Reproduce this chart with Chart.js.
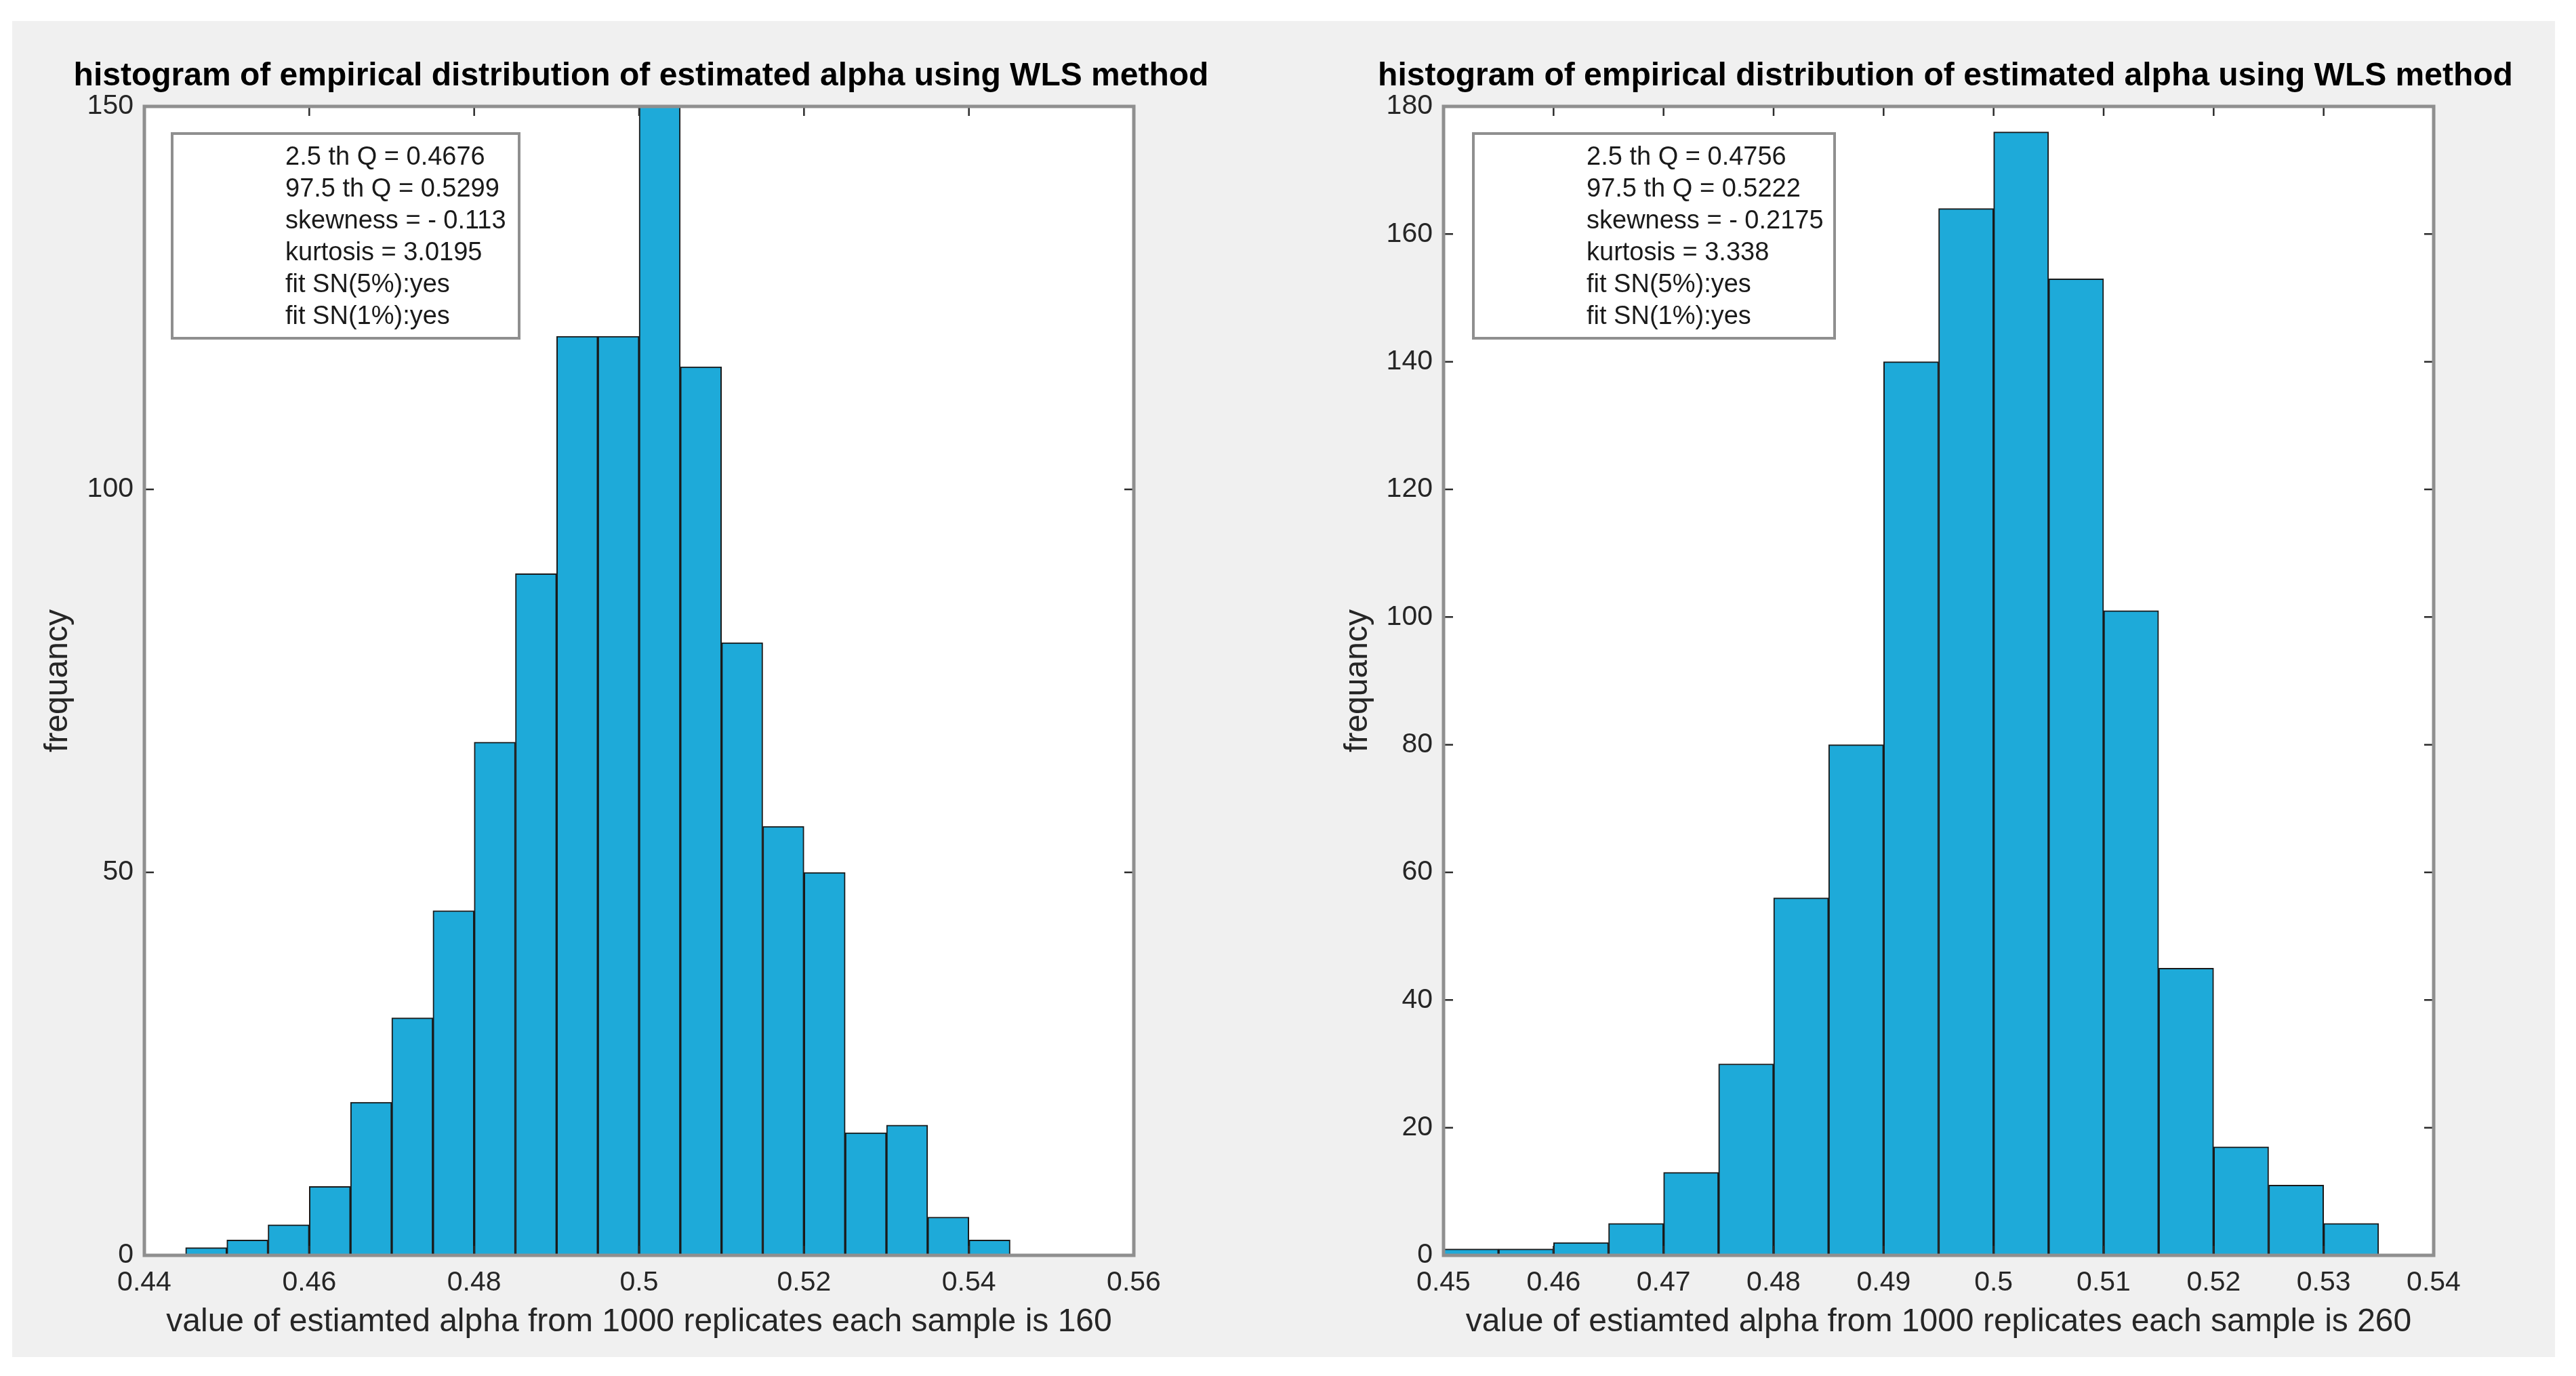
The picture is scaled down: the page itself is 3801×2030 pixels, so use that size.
<!DOCTYPE html>
<html>
<head>
<meta charset="utf-8">
<script src="https://cdn.jsdelivr.net/npm/chart.js@4.4.1/dist/chart.umd.min.js"></script>
<style>
  html, body { margin: 0; padding: 0; background: #fff; }
  #fig { position: absolute; left: 18px; top: 31px; width: 3752px; height: 1971px; background: #f0f0f0; }
  canvas { position: absolute; top: 0; }
  #histLeft { left: 0; }
  #histRight { left: 1900px; }
</style>
</head>
<body>
<div id="fig"></div>
<canvas id="histLeft" width="1900" height="2030"></canvas>
<canvas id="histRight" width="1901" height="2030"></canvas>
<script>
// sample size 160
const binsLeft = [0.4475, 0.4525, 0.4575, 0.4625, 0.4675, 0.4725, 0.4775, 0.4825, 0.4875, 0.4925,
                  0.4975, 0.5025, 0.5075, 0.5125, 0.5175, 0.5225, 0.5275, 0.5325, 0.5375, 0.5425];
const countsLeft = [1, 2, 4, 9, 20, 31, 45, 67, 89, 120, 120, 150, 116, 80, 56, 50, 16, 17, 5, 2];
const statsLeft = ['2.5 th Q = 0.4676', '97.5 th Q = 0.5299', 'skewness = - 0.113',
                   'kurtosis = 3.0195', 'fit SN(5%):yes', 'fit SN(1%):yes'];

// sample size 260
const binsRight = [0.4525, 0.4575, 0.4625, 0.4675, 0.4725, 0.4775, 0.4825, 0.4875, 0.4925,
                   0.4975, 0.5025, 0.5075, 0.5125, 0.5175, 0.5225, 0.5275, 0.5325];
const countsRight = [1, 1, 2, 5, 13, 30, 56, 80, 140, 164, 176, 153, 101, 45, 17, 11, 5];
const statsRight = ['2.5 th Q = 0.4756', '97.5 th Q = 0.5222', 'skewness = - 0.2175',
                    'kurtosis = 3.338', 'fit SN(5%):yes', 'fit SN(1%):yes'];

const titleText = 'histogram of empirical distribution of estimated alpha using WLS method';
const yLabel = 'frequancy';

const FONT = "'Liberation Sans', Arial, Helvetica, sans-serif";

// white axes background, inward ticks on all four sides, grey box, stats box, title
// (title drawn here because the title plugin squeezes it to the chart area width)
const matlabAxes = {
    id: 'matlabAxes',
    beforeDraw(chart) {
        const { ctx, chartArea: a } = chart;
        ctx.save();
        ctx.fillStyle = '#ffffff';
        ctx.fillRect(a.left, a.top, a.right - a.left, a.bottom - a.top);
        ctx.restore();
    },
    afterDatasetsDraw(chart, args, opts) {
        const { ctx, chartArea: a, scales } = chart;
        const len = 14;
        ctx.save();
        ctx.strokeStyle = '#2b2b2b';
        ctx.lineWidth = 2.5;
        ctx.beginPath();
        scales.x.ticks.forEach(t => {
            const px = scales.x.getPixelForValue(t.value);
            ctx.moveTo(px, a.bottom); ctx.lineTo(px, a.bottom - len);
            ctx.moveTo(px, a.top); ctx.lineTo(px, a.top + len);
        });
        scales.y.ticks.forEach(t => {
            const py = scales.y.getPixelForValue(t.value);
            ctx.moveTo(a.left, py); ctx.lineTo(a.left + len, py);
            ctx.moveTo(a.right, py); ctx.lineTo(a.right - len, py);
        });
        ctx.stroke();

        ctx.strokeStyle = '#8f8f8f';
        ctx.lineWidth = 5;
        ctx.strokeRect(a.left, a.top, a.right - a.left, a.bottom - a.top);

        // stats annotation
        const bx = a.left + opts.boxLeft, by = a.top + 40, bw = opts.boxWidth, bh = 302;
        ctx.fillStyle = '#ffffff';
        ctx.fillRect(bx, by, bw, bh);
        ctx.strokeStyle = '#8f8f8f';
        ctx.lineWidth = 4;
        ctx.strokeRect(bx, by, bw, bh);
        ctx.fillStyle = '#1a1a1a';
        ctx.font = '38px ' + FONT;
        ctx.textBaseline = 'alphabetic';
        ctx.textAlign = 'left';
        opts.lines.forEach((s, i) => ctx.fillText(s, bx + 167, by + 46 + i * 47));

        // title
        ctx.fillStyle = '#000000';
        ctx.font = 'bold 48px ' + FONT;
        ctx.textAlign = 'center';
        ctx.fillText(titleText, (a.left + a.right) / 2 + opts.titleShift, a.top - 31);
        ctx.restore();
    }
};

function makeHist(canvasId, bins, counts, xr, yr, stats, lay) {
    new Chart(document.getElementById(canvasId), {
        type: 'bar',
        data: {
            datasets: [{
                data: bins.map((b, i) => ({ x: b, y: counts[i] })),
                backgroundColor: '#1eaad9',
                borderColor: '#1a1a1a',
                borderWidth: 2,
                borderSkipped: 'start',
                barPercentage: 1,
                categoryPercentage: 1,
                grouped: false
            }]
        },
        options: {
            responsive: false,
            devicePixelRatio: 1,
            animation: false,
            layout: { padding: { left: 0, right: lay.padRight, top: 157, bottom: 0 } },
            plugins: {
                legend: { display: false },
                tooltip: { enabled: false },
                title: { display: false },
                matlabAxes: { lines: stats, boxLeft: lay.boxLeft, boxWidth: lay.boxWidth, titleShift: lay.titleShift }
            },
            scales: {
                x: {
                    type: 'linear',
                    offset: false,
                    min: xr.min, max: xr.max,
                    afterFit: s => { s.height = 178; },
                    afterBuildTicks: s => { s.ticks = xr.ticks.map(v => ({ value: v })); },
                    grid: { display: false, drawTicks: false },
                    border: { display: false },
                    ticks: {
                        padding: 16.5,
                        maxRotation: 0,
                        autoSkip: false,
                        color: '#262626',
                        font: { family: FONT, size: 41 },
                        callback: v => String(+v.toFixed(3))
                    },
                    title: {
                        display: true,
                        text: xr.label,
                        color: '#262626',
                        font: { family: FONT, size: 48, lineHeight: 1.2 },
                        padding: { top: 0, bottom: 50 }
                    }
                },
                y: {
                    min: 0, max: yr.max,
                    afterFit: s => { s.width = lay.yWidth; },
                    grid: { display: false, drawTicks: false },
                    border: { display: false },
                    ticks: {
                        stepSize: yr.step,
                        padding: 16,
                        color: '#262626',
                        font: { family: FONT, size: 41 }
                    },
                    title: {
                        display: true,
                        text: yLabel,
                        color: '#262626',
                        font: { family: FONT, size: 48, lineHeight: 1.2 },
                        padding: { top: lay.yTitlePad, bottom: 0 }
                    }
                }
            }
        },
        plugins: [matlabAxes]
    });
}

const xTicksLeft = [0.44, 0.46, 0.48, 0.5, 0.52, 0.54, 0.56];
const xTicksRight = [0.45, 0.46, 0.47, 0.48, 0.49, 0.5, 0.51, 0.52, 0.53, 0.54];

makeHist('histLeft', binsLeft, countsLeft,
    { min: 0.44, max: 0.56, ticks: xTicksLeft, label: 'value of estiamted alpha from 1000 replicates each sample is 160' },
    { max: 150, step: 50 }, statsLeft,
    { padRight: 227, yWidth: 213, yTitlePad: 57, boxLeft: 41, boxWidth: 512, titleShift: 3 });

makeHist('histRight', binsRight, countsRight,
    { min: 0.45, max: 0.54, ticks: xTicksRight, label: 'value of estiamted alpha from 1000 replicates each sample is 260' },
    { max: 180, step: 20 }, statsRight,
    { padRight: 210, yWidth: 230, yTitlePad: 75, boxLeft: 44, boxWidth: 533, titleShift: 10 });
</script>
</body>
</html>
